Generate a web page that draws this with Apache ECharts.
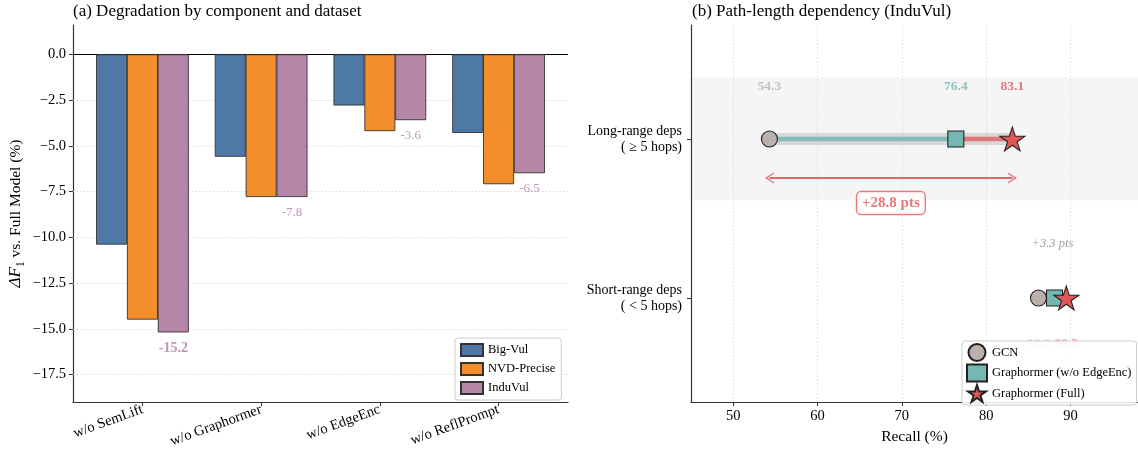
<!DOCTYPE html>
<html><head><meta charset="utf-8">
<script src="https://cdn.jsdelivr.net/npm/echarts@6/dist/echarts.min.js"></script>
<style>html,body{margin:0;padding:0;background:#fff}#c{width:1138px;height:456px}</style>
</head><body><div id="c"></div>
<script>
// ---- Panel (a) data ----
const categories = ['w/o SemLift', 'w/o Graphormer', 'w/o EdgeEnc', 'w/o ReflPrompt'];
const bigVul     = [-10.4, -5.6, -2.8, -4.3];
const nvdPrecise = [-14.5, -7.8, -4.2, -7.1];
const induVul    = [-15.2, -7.8, -3.6, -6.5];
const yTicksA    = [0, -2.5, -5, -7.5, -10, -12.5, -15, -17.5];

// ---- Panel (b) data ----
const pathCats   = ['Short-range deps\n( < 5 hops)', 'Long-range deps\n( \u2265 5 hops)'];
const gcn        = [86.2, 54.3];
const noEdgeEnc  = [88.1, 76.4];
const fullModel  = [89.5, 83.1];
const xTicksB    = [50, 60, 70, 80, 90];

const FONT = 'Liberation Serif';
const C_BLUE = '#4e78a6', C_ORANGE = '#f28e2b', C_PURPLE = '#b686a8', C_PURPLE_TXT = '#b07aa1';
const C_GRAY = '#bab0ac', C_TEAL = '#76b7b2', C_RED = '#e15759';
const STAR = 'path://M50,0 L61.2,34.5 L97.6,34.5 L68.2,55.9 L79.4,90.5 L50,69.1 L20.6,90.5 L31.8,55.9 L2.4,34.5 L38.8,34.5 Z';
const CHEV = 'path://M0,10 L5,0 L10,10 L8.8,10 L5,2.6 L1.2,10 Z';
const GRID_DASH = { color: '#d4d4d4', type: [1.5, 2], width: 0.8 };

const W = 0.26;
const fmtMinus = v => (Math.abs(v) < 1e-9 ? '0.0' : v.toFixed(1).replace('-', '\u2212'));

function barSeries(name, vals, off, color) {
  return {
    name, type: 'bar', xAxisIndex: 0, yAxisIndex: 0,
    barWidth: 31, barGap: '-100%',
    data: vals.map((v, i) => [i + off, v]),
    itemStyle: { color, borderColor: '#333', borderWidth: 0.9 },
    z: 3
  };
}

const minIdx = induVul.indexOf(Math.min(...induVul));

const series = [
  Object.assign(barSeries('Big-Vul', bigVul, -W, C_BLUE), {
    markLine: {
      silent: true, symbol: 'none', label: { show: false }, z: 1,
      data: yTicksA.filter(v => v !== 0).map(v => ({ yAxis: v, lineStyle: GRID_DASH }))
        .concat([{ yAxis: 0, lineStyle: { color: '#000', type: 'solid', width: 1 } }])
    }
  }),
  barSeries('NVD-Precise', nvdPrecise, 0, C_ORANGE),
  barSeries('InduVul', induVul, W, C_PURPLE),
  {
    name: 'aLabels', type: 'scatter', xAxisIndex: 0, yAxisIndex: 0, symbolSize: 0, silent: true, z: 4,
    data: induVul.map((v, i) => ({
      value: [i + W, v],
      label: { fontWeight: i === minIdx ? 'bold' : 'normal', fontSize: i === minIdx ? 14 : 13 }
    })),
    label: { show: true, position: 'bottom', distance: 9, color: C_PURPLE_TXT, fontFamily: FONT,
      formatter: p => p.value[1].toFixed(1) }
  }
];

// panel (b) tracks
pathCats.forEach((c, i) => {
  series.push({
    type: 'line', xAxisIndex: 1, yAxisIndex: 1, symbol: 'none', silent: true, z: 2,
    data: [[gcn[i], i], [fullModel[i], i]],
    lineStyle: { color: 'rgba(160,160,160,0.35)', width: 12, cap: 'butt' },
    markArea: i === 1 ? { silent: true, itemStyle: { color: 'rgba(0,0,0,0.038)' }, z: 0,
      data: [[{ yAxis: i - 0.385 }, { yAxis: i + 0.385 }]] } : undefined,
    markLine: i === 0 ? { silent: true, symbol: 'none', label: { show: false }, z: 0,
      data: xTicksB.map(v => ({ xAxis: v, lineStyle: GRID_DASH })) } : undefined
  });
  series.push({
    type: 'line', xAxisIndex: 1, yAxisIndex: 1, symbol: 'none', silent: true, z: 2,
    data: [[gcn[i], i], [noEdgeEnc[i], i]],
    lineStyle: { color: C_TEAL, width: 4.5, opacity: 0.85, cap: 'butt' }
  });
  series.push({
    type: 'line', xAxisIndex: 1, yAxisIndex: 1, symbol: 'none', silent: true, z: 2,
    data: [[noEdgeEnc[i], i], [fullModel[i], i]],
    lineStyle: { color: C_RED, width: 4.5, opacity: 0.75, cap: 'butt' }
  });
});

function markerSeries(name, vals, symbol, size, color) {
  return {
    name, type: 'scatter', xAxisIndex: 1, yAxisIndex: 1, symbol, symbolSize: size, symbolKeepAspect: true, z: 4,
    data: vals.map((v, i) => [v, i]),
    itemStyle: { color, borderColor: '#222', borderWidth: 1.1, opacity: 1 }
  };
}
series.push(markerSeries('GCN', gcn, 'circle', 16, C_GRAY));
series.push(markerSeries('Graphormer (w/o EdgeEnc)', noEdgeEnc, 'rect', 16, C_TEAL));
series.push(markerSeries('Graphormer (Full)', fullModel, STAR, 25, C_RED));

// value labels for long-range (above)
const L = 1;
[[gcn, C_GRAY], [noEdgeEnc, C_TEAL], [fullModel, C_RED]].forEach(([arr, col]) => {
  series.push({
    type: 'scatter', xAxisIndex: 1, yAxisIndex: 1, symbolSize: 0, silent: true, z: 5,
    data: [[arr[L], L]],
    label: { show: true, position: 'top', distance: 45, color: col, fontWeight: 'bold', fontSize: 13.5, fontFamily: FONT,
      formatter: p => p.value[0].toFixed(1) }
  });
});
// short-range labels (below)
const S = 0;
[[gcn, C_GRAY], [fullModel, C_RED]].forEach(([arr, col]) => {
  series.push({
    type: 'scatter', xAxisIndex: 1, yAxisIndex: 1, symbolSize: 0, silent: true, z: 1,
    data: [[arr[S], S]],
    label: { show: true, position: 'bottom', distance: 39, color: col, fontWeight: 'bold', fontSize: 13.5, fontFamily: FONT, opacity: 0.5,
      formatter: p => p.value[0].toFixed(1) }
  });
});
// +3.3 pts (short-range gain)
series.push({
  type: 'scatter', xAxisIndex: 1, yAxisIndex: 1, symbolSize: 0, silent: true, z: 5,
  data: [[(gcn[S] + fullModel[S]) / 2, S]],
  label: { show: true, position: 'top', distance: 48, color: '#888', fontStyle: 'italic', fontSize: 12.5, fontFamily: FONT,
    formatter: () => '+' + (fullModel[S] - gcn[S]).toFixed(1) + ' pts' }
});
// arrow + long-range gain box
const ARROW_DY = 0.245;
series.push({
  type: 'scatter', xAxisIndex: 1, yAxisIndex: 1, symbolSize: 0, silent: true, z: 5,
  data: [[(gcn[L] + fullModel[L]) / 2, L - ARROW_DY]],
  label: { show: true, position: 'bottom', distance: 14, color: C_RED, fontWeight: 'bold', fontSize: 15, fontFamily: FONT,
    backgroundColor: '#fff', borderColor: C_RED, borderWidth: 1.2, borderRadius: 4, padding: [4, 5, 3, 5],
    formatter: () => '+' + (fullModel[L] - gcn[L]).toFixed(1) + ' pts' },
  markLine: {
    silent: true, symbol: [CHEV, CHEV], symbolSize: [11, 9], label: { show: false },
    lineStyle: { color: C_RED, width: 2, type: 'solid', opacity: 0.9 },
    data: [[{ coord: [gcn[L], L - ARROW_DY] }, { coord: [fullModel[L], L - ARROW_DY] }]]
  }
});

const axisLineStyle = { color: '#333', width: 1.2 };
const TICK_FS = 14.5;

const option = {
  animation: false,
  textStyle: { fontFamily: FONT },
  title: [
    { text: '(a) Degradation by component and dataset', left: 73, top: 3, padding: 0,
      textStyle: { fontFamily: FONT, fontSize: 17, fontWeight: 'normal', color: '#000' } },
    { text: '(b) Path-length dependency (InduVul)', left: 692, top: 3, padding: 0,
      textStyle: { fontFamily: FONT, fontSize: 17, fontWeight: 'normal', color: '#000' } }
  ],
  grid: [
    { left: 73, top: 25, width: 495, height: 377 },
    { left: 691, top: 25, width: 447, height: 377 }
  ],
  xAxis: [
    { gridIndex: 0, type: 'value', min: -0.585, max: 3.585,
      axisLine: { show: true, onZero: false, lineStyle: axisLineStyle },
      axisTick: { show: true, length: 4, customValues: categories.map((c, i) => i), lineStyle: { color: '#333' } },
      axisLabel: { customValues: categories.map((c, i) => i), rotate: 20, margin: 7, fontSize: TICK_FS, color: '#000', fontFamily: FONT,
        formatter: v => categories[Math.round(v)] },
      splitLine: { show: false } },
    { gridIndex: 1, type: 'value', min: 45, max: 98,
      name: 'Recall (%)', nameLocation: 'middle', nameGap: 26,
      nameTextStyle: { fontSize: 15.5, color: '#000', fontFamily: FONT },
      axisLine: { show: true, onZero: false, lineStyle: axisLineStyle },
      axisTick: { show: true, length: 4, customValues: xTicksB, lineStyle: { color: '#333' } },
      axisLabel: { customValues: xTicksB, margin: 7, fontSize: TICK_FS, color: '#000', fontFamily: FONT },
      splitLine: { show: false } }
  ],
  yAxis: [
    { gridIndex: 0, type: 'value', min: -19.0, max: 1.6,
      name: '{i|\u0394F}{s|1}{t| vs. Full Model (%)}', nameLocation: 'middle', nameRotate: 90, nameGap: 46,
      nameTextStyle: { fontSize: 15.5, color: '#000', fontFamily: FONT,
        rich: { i: { fontStyle: 'italic', fontSize: 17, fontFamily: FONT, color: '#000', lineHeight: 22, verticalAlign: 'middle' },
                s: { fontSize: 11.5, fontFamily: FONT, color: '#000', lineHeight: 22, verticalAlign: 'bottom' },
                t: { fontSize: 15.5, fontFamily: FONT, color: '#000', lineHeight: 22, verticalAlign: 'middle' } } },
      axisLine: { show: true, onZero: false, lineStyle: axisLineStyle },
      axisTick: { show: true, length: 4, customValues: yTicksA, lineStyle: { color: '#333' } },
      axisLabel: { customValues: yTicksA, margin: 7, fontSize: TICK_FS, color: '#000', fontFamily: FONT, formatter: fmtMinus },
      splitLine: { show: false } },
    { gridIndex: 1, type: 'value', min: -0.654, max: 1.717,
      axisLine: { show: true, onZero: false, lineStyle: axisLineStyle },
      axisTick: { show: true, length: 4, customValues: [0, 1], lineStyle: { color: '#333' } },
      axisLabel: { customValues: [0, 1], margin: 9, fontSize: 14, color: '#000', fontFamily: FONT, align: 'right', lineHeight: 16,
        formatter: v => pathCats[Math.round(v)] },
      splitLine: { show: false } }
  ],
  legend: [
    { data: ['Big-Vul', 'NVD-Precise', 'InduVul'], orient: 'vertical', left: 455, top: 338, icon: 'rect',
      itemWidth: 22, itemHeight: 12, itemGap: 5, padding: [5, 6, 5, 5],
      backgroundColor: 'rgba(255,255,255,0.85)', borderColor: '#ccc', borderWidth: 1, borderRadius: 3,
      textStyle: { fontSize: 12.5, color: '#000', fontFamily: FONT }, selectedMode: false },
    { data: ['GCN', 'Graphormer (w/o EdgeEnc)', 'Graphormer (Full)'], orient: 'vertical', left: 962, top: 341,
      itemWidth: 20, itemHeight: 17, itemGap: 1.5, padding: [2, 5, 2, 4],
      backgroundColor: 'rgba(255,255,255,0.85)', borderColor: '#ccc', borderWidth: 1, borderRadius: 3,
      textStyle: { fontSize: 12.5, color: '#000', fontFamily: FONT }, selectedMode: false }
  ],
  series
};

const chart = echarts.init(document.getElementById('c'), null, { renderer: 'canvas' });
chart.setOption(option);
</script>
</body></html>
